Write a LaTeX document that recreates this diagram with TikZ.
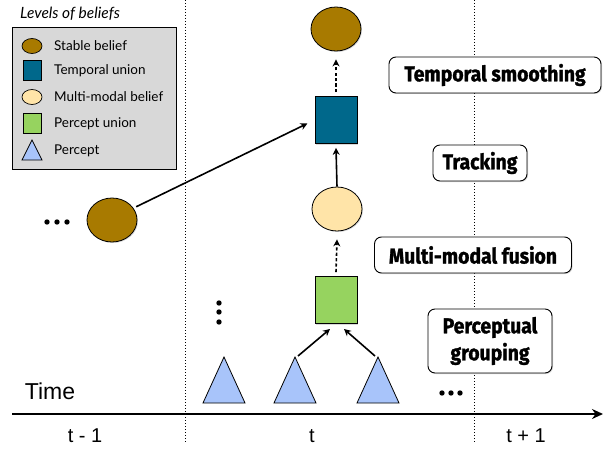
\documentclass[tikz,border=0pt]{standalone}
\usepackage{fontspec}
\setmainfont{Lato}
\newfontfamily\axisfont{Liberation Sans}
\newfontfamily\heavyfont[FakeStretch=0.9,FakeBold=1.3]{Fira Sans}
\usetikzlibrary{arrows.meta,shapes.geometric,shadows,calc}

\definecolor{stable}{RGB}{168,122,0}
\definecolor{tunion}{RGB}{0,104,139}
\definecolor{mmbelief}{RGB}{255,228,168}
\definecolor{punion}{RGB}{150,211,95}
\definecolor{percept}{RGB}{168,196,250}
\definecolor{legendbg}{RGB}{216,216,216}

\tikzset{
  soft/.style={drop shadow={shadow xshift=1pt,shadow yshift=-1pt,opacity=0.3}},
  bigoval/.style={ellipse,draw,line width=0.8pt,minimum width=50pt,minimum height=44pt,inner sep=0pt,soft},
  bigbox/.style={rectangle,draw,line width=0.8pt,minimum width=42pt,minimum height=47pt,inner sep=0pt,soft},
  smalloval/.style={ellipse,draw,line width=0.7pt,minimum width=20pt,minimum height=15pt,inner sep=0pt},
  smallbox/.style={rectangle,draw,line width=0.7pt,minimum width=18pt,minimum height=20pt,inner sep=0pt},
  trishape/.style={draw,line width=0.8pt,fill=percept,line join=miter},
  legendtext/.style={anchor=west,inner sep=0pt,font=\fontsize{13.5}{15}\selectfont},
  stagebox/.style={draw,rounded corners=7pt,fill=white,line width=0.9pt,align=center,
    font=\heavyfont\bfseries\fontsize{21.5}{27}\selectfont,inner xsep=3pt,inner ysep=4pt,
    minimum height=36pt,soft},
  link/.style={line width=1.6pt,-{Stealth[length=7pt,width=7pt]}},
  dashlink/.style={link,dash pattern=on 3.2pt off 2.2pt},
  separator/.style={line width=0.8pt,dash pattern=on 0.8pt off 2.2pt},
  dotmark/.style={fill=black,draw=none},
  axislabel/.style={font=\axisfont\fontsize{20}{22}\selectfont,inner sep=0pt}
}

\begin{document}
\begin{tikzpicture}[x=1pt,y=-1pt]
\useasboundingbox (0,0) rectangle (608,452);

% time slice separators
\coordinate (s1top) at (185,0);
\coordinate (s1bot) at (185,442);
\coordinate (s2top) at (474,0);
\coordinate (s2bot) at (474,442);
\draw[separator] (s1top) -- (s1bot);
\draw[separator] (s2top) -- (s2bot);

% legend
\node[anchor=west,inner sep=0pt,font=\itshape\fontsize{15.5}{17}\selectfont] (legtitle) at (20,14) {Levels of beliefs};
\node[draw,fill=legendbg,line width=0.7pt,minimum width=164pt,minimum height=142pt,anchor=north west,inner sep=0pt,soft] (legend) at (12,27) {};
\node[smalloval,fill=stable] (k1) at (32,46) {};
\node[smallbox,fill=tunion] (k2) at (32,70) {};
\node[smalloval,fill=mmbelief] (k3) at (32,97) {};
\node[smallbox,fill=punion] (k4) at (32,123) {};
\draw[trishape,line width=0.7pt] (32,140) -- (42,160) -- (22,160) -- cycle;
\node[legendtext] (t1) at (54,46) {Stable belief};
\node[legendtext] (t2) at (54,71) {Temporal union};
\node[legendtext] (t3) at (54,97) {Multi-modal belief};
\node[legendtext] (t4) at (54,124) {Percept union};
\node[legendtext] (t5) at (54,151) {Percept};

% belief hierarchy at time t
\node[bigoval,fill=stable] (top) at (336,29) {};
\node[bigbox,fill=tunion] (tu) at (336,120) {};
\node[bigoval,fill=mmbelief] (mm) at (337,209) {};
\node[bigbox,fill=punion] (pu) at (336,300) {};
\node[bigoval,fill=stable] (prev) at (112,220) {};

% percepts
\draw[trishape] (224,357) -- (245,403) -- (203,403) -- cycle;
\draw[trishape] (295,357) -- (316,403) -- (274,403) -- cycle;
\draw[trishape] (378,357) -- (399,403) -- (357,403) -- cycle;
\coordinate (p2) at (298,356);
\coordinate (p3) at (375,356);
\coordinate (pu2) at (330,329);
\coordinate (pu3) at (344,329);

% connectors
\draw[dashlink] ($(tu.north)+(0,-4)$) -- ($(top.south)+(0,8)$);
\draw[link] (mm.north) -- ($(tu.south)+(0,4)$);
\draw[dashlink] ($(pu.north)+(0,-4)$) -- ($(mm.south)+(0,8)$);
\draw[link] (p2) -- (pu2);
\draw[link] (p3) -- (pu3);
\draw[link,shorten <=3pt,shorten >=8pt] (prev.29) -- (tu.west);

% ellipsis marks
\foreach \x in {47,57,67} \fill[dotmark] (\x,222) circle (2.7pt);
\foreach \x in {442,451,460} \fill[dotmark] (\x,393) circle (2.7pt);
\foreach \y in {303,312,322} \fill[dotmark] (219,\y) circle (2.7pt);

% processing stages
\node[stagebox,minimum width=212pt] (ts) at (495,75) {Temporal smoothing};
\node[stagebox,minimum width=94pt] (tr) at (480,163) {Tracking};
\node[stagebox,minimum width=197pt] (mf) at (473,255) {Multi-modal fusion};
\node[stagebox,minimum width=124pt,minimum height=64pt] (pg) at (490,341) {Perceptual\\grouping};

% time axis
\coordinate (ax0) at (12,414);
\coordinate (ax1) at (603,414);
\draw[line width=2.6pt,-{Stealth[length=11pt,width=10pt]}] (ax0) -- (ax1);
\node[axislabel,font=\axisfont\fontsize{23}{25}\selectfont] (time) at (50,391) {Time};
\node[axislabel] (tm1) at (85,436) {t - 1};
\node[axislabel] (t0) at (312,436) {t};
\node[axislabel] (tp1) at (526,436) {t + 1};
\end{tikzpicture}
\end{document}
